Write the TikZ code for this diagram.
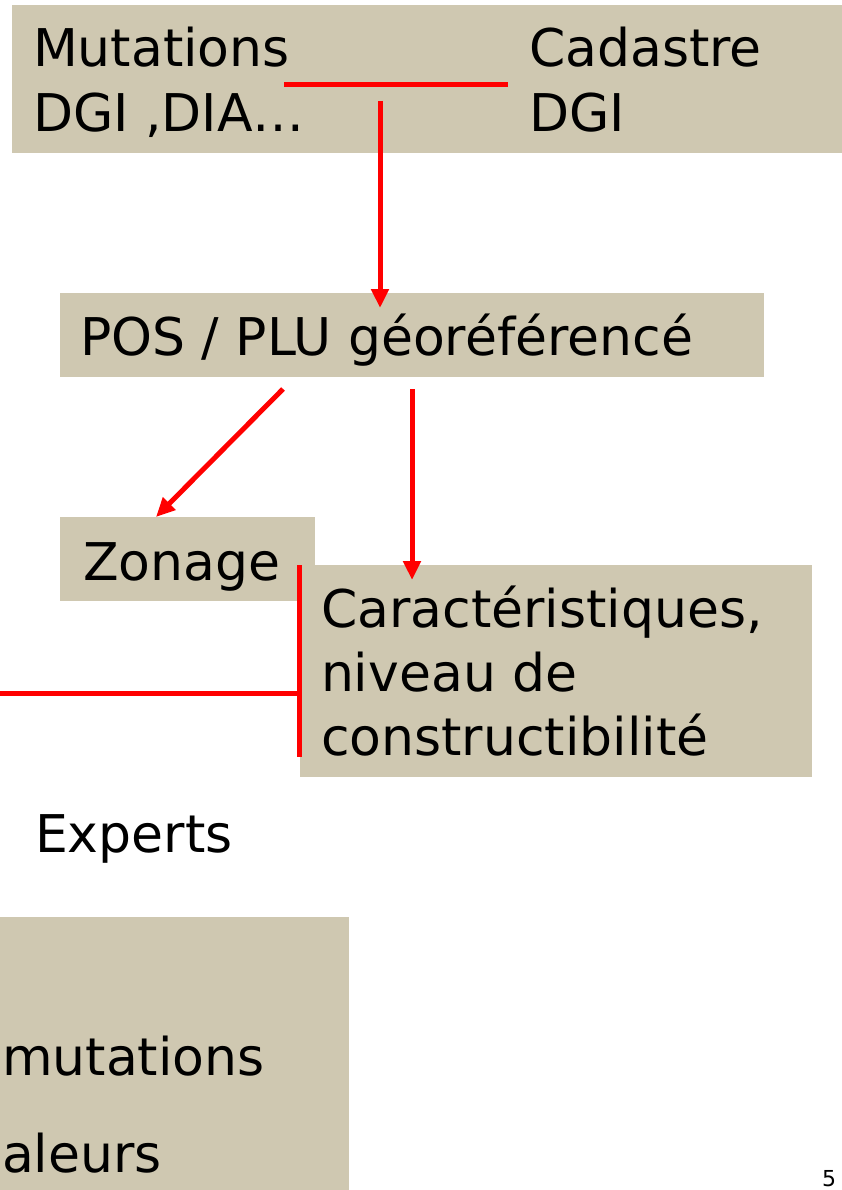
\documentclass[tikz,border=0pt]{standalone}
\usepackage{fontspec}
\setmainfont{DejaVu Sans}
\usetikzlibrary{arrows.meta}
\definecolor{boxtan}{RGB}{207,200,177}
\definecolor{linkred}{RGB}{255,0,0}
\begin{document}
\begin{tikzpicture}[x=1pt,y=-1pt,
  box/.style={fill=boxtan, draw=none, inner sep=0pt, outer sep=0pt, anchor=north west},
  txt/.style={anchor=base west, inner sep=0pt, outer sep=0pt, font=\fontsize{52}{64}\selectfont},
  redbar/.style={draw=linkred, line width=5pt},
  redarrow/.style={draw=linkred, line width=5pt, -{Triangle[length=19pt,width=17pt]}}]
\useasboundingbox (0,0) rectangle (842,1190);
\clip (0,0) rectangle (842,1190);
% boxes
\node[box, minimum width=840pt, minimum height=148pt] (src) at (12,5) {};
\node[box, minimum width=704pt, minimum height=84pt] (pos) at (60,293) {};
\node[box, minimum width=255pt, minimum height=84pt] (zon) at (60,517) {};
\node[box, minimum width=512pt, minimum height=212pt] (car) at (300,565) {};
\node[box, minimum width=359pt, minimum height=290pt] (res) at (-10,917) {};
% texts
\node[txt] (t1) at (33,67) {Mutations};
\node[txt] (t2) at (33,132) {DGI ,DIA…};
\node[txt] (t3) at (529,67) {Cadastre};
\node[txt] (t4) at (529,132) {DGI};
\node[txt] (t5) at (80,355) {POS / PLU géoréférencé};
\node[txt] (t6) at (83,580) {Zonage};
\node[txt] (t7) at (321,627) {Caractéristiques,};
\node[txt] (t8) at (321,691) {niveau de};
\node[txt] (t9) at (321,755) {constructibilité};
\node[txt] (t10) at (35,852) {Experts};
\node[txt] (t11) at (2,1075) {mutations};
\node[txt] (t12) at (2,1172) {aleurs};
\node[anchor=base west, inner sep=0pt, font=\fontsize{22}{26}\selectfont] (pg) at (822,1186) {5};
% connector coordinates
\coordinate (jl) at (284,85);
\coordinate (jr) at (508,85);
\coordinate (a1s) at (380,101);
\coordinate (a1e) at (380,308);
\coordinate (a2s) at (283,389);
\coordinate (a2e) at (156,517);
\coordinate (a3s) at (412,389);
\coordinate (a3e) at (412,580);
\coordinate (vt) at (299,565);
\coordinate (vb) at (299,757);
\coordinate (hm) at (299,693);
\coordinate (hl) at (-6,693);
% connectors
\draw[redbar] (jl) -- (jr);
\draw[redarrow] (a1s) -- (a1e);
\draw[redarrow] (a2s) -- (a2e);
\draw[redarrow] (a3s) -- (a3e);
\draw[redbar] (vt) -- (vb);
\draw[redbar] (hl) -- (hm);
\end{tikzpicture}
\end{document}
